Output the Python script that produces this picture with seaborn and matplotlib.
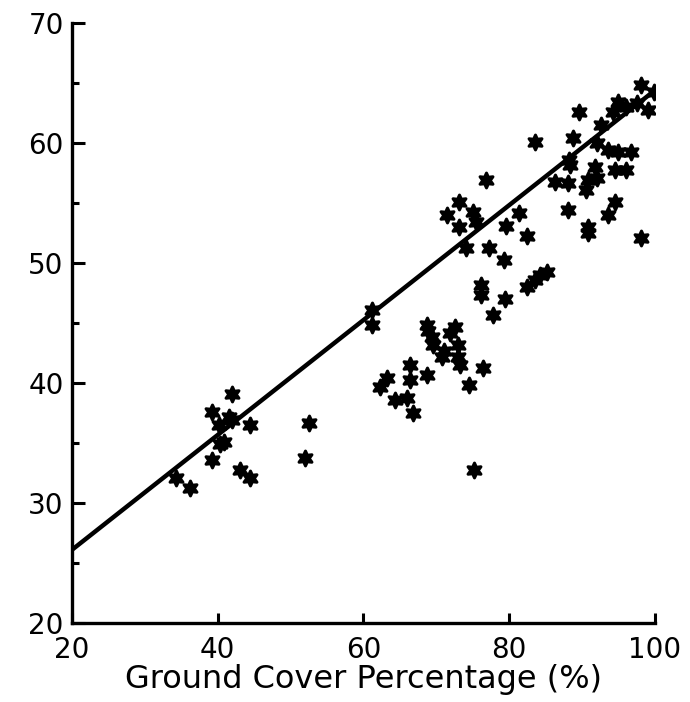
import numpy as np
import pandas as pd
import seaborn as sns
import matplotlib
matplotlib.use("Agg")
import matplotlib.pyplot as plt
from matplotlib.ticker import MultipleLocator

# точки
cover = [42.0, 39.2, 40.2, 42.0, 44.4, 40.9, 40.3, 39.2, 43.1, 44.4, 34.3, 36.2, 41.5, 52.5, 52.0,
         61.1, 61.2, 68.7, 72.6, 69.4, 71.9, 69.6, 72.9, 70.8, 72.9, 73.3, 76.4, 74.5, 66.4, 66.4,
         68.7, 63.2, 62.2, 64.3, 66.0, 66.8, 75.2, 68.9, 71.0,
         76.8, 73.1, 71.5, 75.0, 73.1, 75.4, 81.3, 79.6, 82.4, 74.0, 77.2, 79.3, 76.1, 76.1, 79.4,
         77.8, 82.4, 84.2, 85.2, 83.5,
         98.1, 99.8, 94.9, 89.6, 94.2, 99.1, 92.6, 88.7, 83.5, 92.1, 93.5, 94.9, 96.7, 88.2, 88.4,
         91.7, 94.5, 96.0, 86.3, 88.0, 90.8, 92.1, 90.5, 88.0, 93.5, 94.5, 90.8, 90.8, 98.1, 96.0, 97.5]
value = [39.1, 37.6, 36.5, 36.9, 36.5, 35.1, 34.9, 33.6, 32.75, 32.1, 32.1, 31.25, 37.2, 36.7, 33.75,
         46.1, 44.8, 44.8, 44.7, 43.8, 44.2, 43.2, 43.2, 42.2, 42.2, 41.5, 41.25, 39.8, 41.5, 40.25,
         40.7, 40.4, 39.7, 38.6, 38.75, 37.5, 32.75, 44.3, 42.7,
         56.9, 55.1, 54.0, 54.25, 53.0, 53.4, 54.2, 53.1, 52.25, 51.25, 51.25, 50.25, 48.2, 47.3, 47.0,
         45.7, 48.0, 49.0, 49.25, 48.6,
         64.8, 64.25, 63.4, 62.6, 62.6, 62.75, 61.5, 60.4, 60.1, 60.0, 59.4, 59.25, 59.25, 58.6, 58.2,
         58.0, 57.75, 57.75, 56.75, 56.7, 56.9, 57.1, 56.1, 54.4, 54.0, 55.1, 53.0, 52.5, 52.1, 63.0, 63.3]

# линия тренда (концы)
fit_x = [20, 100]
fit_y = [26.1, 64.4]

sns.set_style("ticks")
plt.rcParams['font.family'] = ['DejaVu Sans']
plt.rcParams['text.color'] = 'black'
plt.rcParams['xtick.color'] = 'black'
plt.rcParams['ytick.color'] = 'black'
plt.rcParams['axes.edgecolor'] = 'black'
plt.rcParams['axes.labelcolor'] = 'black'

fig = plt.figure(figsize=(6.9, 7.02), dpi=100)
ax = fig.add_axes([0.1043, 0.1125, 0.845, 0.8547])

df = pd.DataFrame({"x": cover, "y": value})
sns.scatterplot(data=df, x="x", y="y", marker=(6, 1, 0), s=115, color="black",
                edgecolor="black", linewidth=2.2, ax=ax, zorder=3)
sns.lineplot(x=fit_x, y=fit_y, color="black", linewidth=3.2, ax=ax, zorder=2)

ax.set_xlim(20, 100)
ax.set_ylim(20, 70)
ax.xaxis.set_major_locator(MultipleLocator(20))
ax.yaxis.set_major_locator(MultipleLocator(10))
ax.yaxis.set_minor_locator(MultipleLocator(5))
ax.tick_params(axis="y", which="major", direction="in", length=9, width=2.2, labelsize=20, pad=6)
ax.tick_params(axis="y", which="minor", direction="in", length=5, width=2.2)
ax.tick_params(axis="x", which="major", direction="in", length=7, width=2.2, labelsize=20, pad=9)

sns.despine(ax=ax)
for side in ["left", "bottom"]:
    ax.spines[side].set_linewidth(2.4)

ax.set_xlabel("Ground Cover Percentage (%)", fontsize=23, labelpad=0)
ax.set_ylabel("")

fig.savefig("out.png", dpi=100)
